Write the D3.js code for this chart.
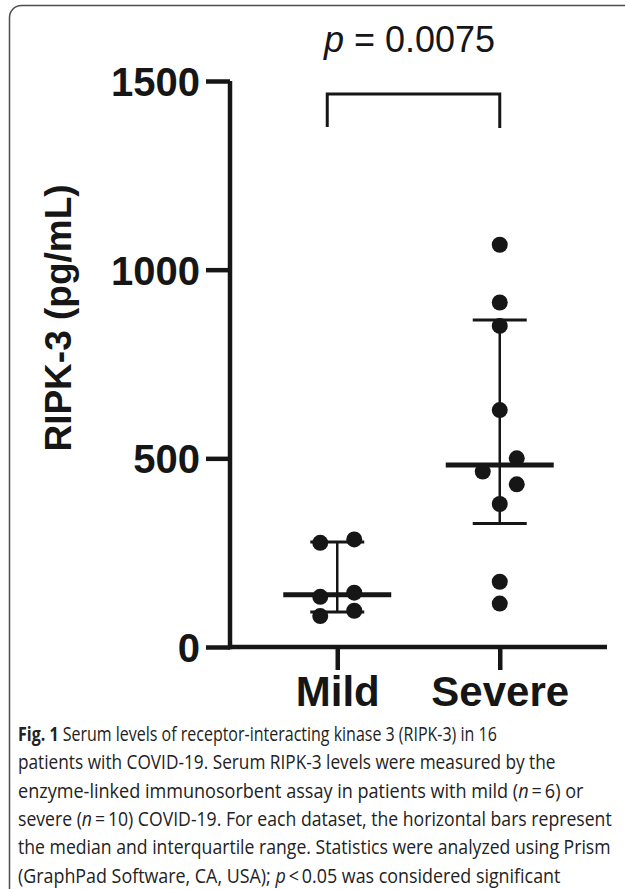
<!DOCTYPE html>
<html>
<head>
<meta charset="utf-8">
<script src="https://cdn.jsdelivr.net/npm/d3@7/dist/d3.min.js"></script>
<style>
	body{margin:0;background:#fff;}
	.chart{width:625px;height:889px;}
</style>
</head>
<body>
<div class="chart"></div>
<script>
//Data
const groups = ['Mild', 'Severe'];
const mildValues = [285, 276, 144, 133, 96, 82];
const severeValues = [1066, 913, 851, 628, 500, 465, 431, 379, 173, 115];
const yTicks = [0, 500, 1000, 1500];
const pLabel = '0.0075';
const yTitle = 'RIPK-3 (pg/mL)';

//Caption, one entry per line; each segment is [text, weight/style]
const captionLines = [
	[['Fig. 1', 'b'], [' Serum levels of receptor-interacting kinase 3 (RIPK-3) in 16', 'r']],
	[['patients with COVID-19. Serum RIPK-3 levels were measured by the', 'r']],
	[['enzyme-linked immunosorbent assay in patients with mild (', 'r'], ['n', 'i'], ['\u2009=\u20096) or', 'r']],
	[['severe (', 'r'], ['n', 'i'], ['\u2009=\u200910) COVID-19. For each dataset, the horizontal bars represent', 'r']],
	[['the median and interquartile range. Statistics were analyzed using Prism', 'r']],
	[['(GraphPad Software, CA, USA); ', 'r'], ['p', 'i'], ['\u2009<\u20090.05 was considered significant', 'r']]
];
const captionEnds = [497, 556, 584, 612, 611, 561];

const W = 625, H = 889;
const svg = d3.select('.chart')
	.append('svg')
		.attr('width', W)
		.attr('height', H);

//frame round the figure (runs off the right and bottom)
svg.append('rect')
	.attr('x', 9.5).attr('y', 5.5)
	.attr('width', 640).attr('height', 900)
	.attr('rx', 12)
	.style('fill', 'none')
	.style('stroke', '#4d4d4d')
	.style('stroke-width', 1.5);

const ink = '#161616';
const chartFont = '"Liberation Sans", Arial, sans-serif';

const y = d3.scaleLinear().domain([0, 1500]).range([647, 81]);
const x = d3.scalePoint().domain(groups).range([230, 607]).padding(0.66);

//axes
const yAxis = svg.append('g')
	.attr('transform', 'translate(230,0)')
	.call(d3.axisLeft(y).tickValues(yTicks).tickSize(24).tickSizeOuter(0).tickPadding(6).tickFormat(d3.format('d')));
const xAxis = svg.append('g')
	.attr('transform', 'translate(0,647)')
	.call(d3.axisBottom(x).tickSize(23).tickSizeOuter(0).tickPadding(6));

[yAxis, xAxis].forEach(function(ax){
	ax.select('.domain').style('stroke', ink).style('stroke-width', 4.5);
	ax.selectAll('.tick line').style('stroke', ink).style('stroke-width', 4.5);
	ax.selectAll('.tick text')
		.style('fill', ink)
		.style('font-family', chartFont)
		.style('font-weight', 'bold');
});
yAxis.select('.domain').attr('d', 'M0,' + y(1500) + 'V' + (y(0) + 2.25));
xAxis.select('.domain').attr('d', 'M228,0H607');
yAxis.selectAll('.tick text').style('font-size', '40px').attr('dy', '0.36em');
xAxis.selectAll('.tick text').style('font-size', '42px').attr('dy', '0.71em');

//y title
svg.append('text')
	.attr('transform', 'translate(71,318) rotate(-90)')
	.attr('text-anchor', 'middle')
	.style('font-family', chartFont)
	.style('font-weight', 'bold')
	.style('font-size', '37px')
	.style('fill', ink)
	.text(yTitle);

//median and interquartile range, Prism style quartiles
function quartile(values, q){
	const s = values.slice().sort(d3.ascending);
	const pos = q * (s.length + 1) - 1;
	const lo = Math.floor(pos), hi = Math.ceil(pos);
	return s[lo] + (pos - lo) * (s[hi] - s[lo]);
}

//swarm: runs of points closer than a dot diameter alternate right/left
const R = 8;
function swarm(values){
	const s = values.slice().sort(d3.descending);
	const out = [];
	let run = [];
	function flush(){
		run.forEach(function(v, i){
			out.push({value: v, side: run.length === 1 ? 0 : (i % 2 === 0 ? 1 : -1)});
		});
		run = [];
	}
	s.forEach(function(v){
		if(run.length && y(v) - y(run[run.length - 1]) >= 2 * R) flush();
		run.push(v);
	});
	flush();
	return out;
}

const series = [
	{group: 'Mild', values: mildValues},
	{group: 'Severe', values: severeValues}
];

series.forEach(function(d){
	const cx = x(d.group);
	const g = svg.append('g').attr('class', 'group');
	const med = quartile(d.values, 0.5);
	const q1 = quartile(d.values, 0.25);
	const q3 = quartile(d.values, 0.75);

	g.append('line')
		.attr('x1', cx).attr('x2', cx)
		.attr('y1', y(q3)).attr('y2', y(q1))
		.style('stroke', ink).style('stroke-width', 2.5);
	g.selectAll('.iqr')
		.data([q1, q3])
		.enter().append('line').attr('class', 'iqr')
		.attr('x1', cx - 27).attr('x2', cx + 27)
		.attr('y1', function(v){return y(v);})
		.attr('y2', function(v){return y(v);})
		.style('stroke', ink).style('stroke-width', 3);
	g.append('line')
		.attr('x1', cx - 54).attr('x2', cx + 54)
		.attr('y1', y(med)).attr('y2', y(med))
		.style('stroke', ink).style('stroke-width', 5);

	g.selectAll('.dot')
		.data(swarm(d.values))
		.enter().append('circle').attr('class', 'dot')
		.attr('cx', function(p){return cx + p.side * 17;})
		.attr('cy', function(p){return y(p.value);})
		.attr('r', R)
		.style('fill', ink);
});

//significance bracket
const bx1 = x('Mild') - 10, bx2 = x('Severe');
svg.append('path')
	.attr('d', 'M' + bx1 + ',127V94H' + bx2 + 'V128')
	.style('fill', 'none')
	.style('stroke', ink)
	.style('stroke-width', 3);

const pText = svg.append('text')
	.attr('x', (bx1 + bx2) / 2 - 4)
	.attr('y', 52)
	.attr('text-anchor', 'middle')
	.style('font-family', chartFont)
	.style('font-size', '36px')
	.style('fill', ink);
pText.append('tspan').style('font-style', 'italic').text('p');
pText.append('tspan').text(' = ' + pLabel);

//caption: each line squeezed horizontally to the width it has in the figure
const cap = svg.append('g').attr('class', 'caption');
captionLines.forEach(function(line, i){
	const t = cap.append('text')
		.style('font-family', '"Open Sans", "Noto Sans", sans-serif')
		.style('font-size', '19.5px')
		.style('fill', '#222');
	line.forEach(function(seg){
		t.append('tspan')
			.style('font-weight', seg[1] === 'b' ? 'bold' : 'normal')
			.style('font-style', seg[1] === 'i' ? 'italic' : 'normal')
			.text(seg[0]);
	});
	const natural = t.node().getComputedTextLength();
	const k = (captionEnds[i] - 18) / natural;
	t.attr('transform', 'translate(18,' + (741 + i * 28.3) + ') scale(' + k + ',1)');
});
</script>
</body>
</html>
